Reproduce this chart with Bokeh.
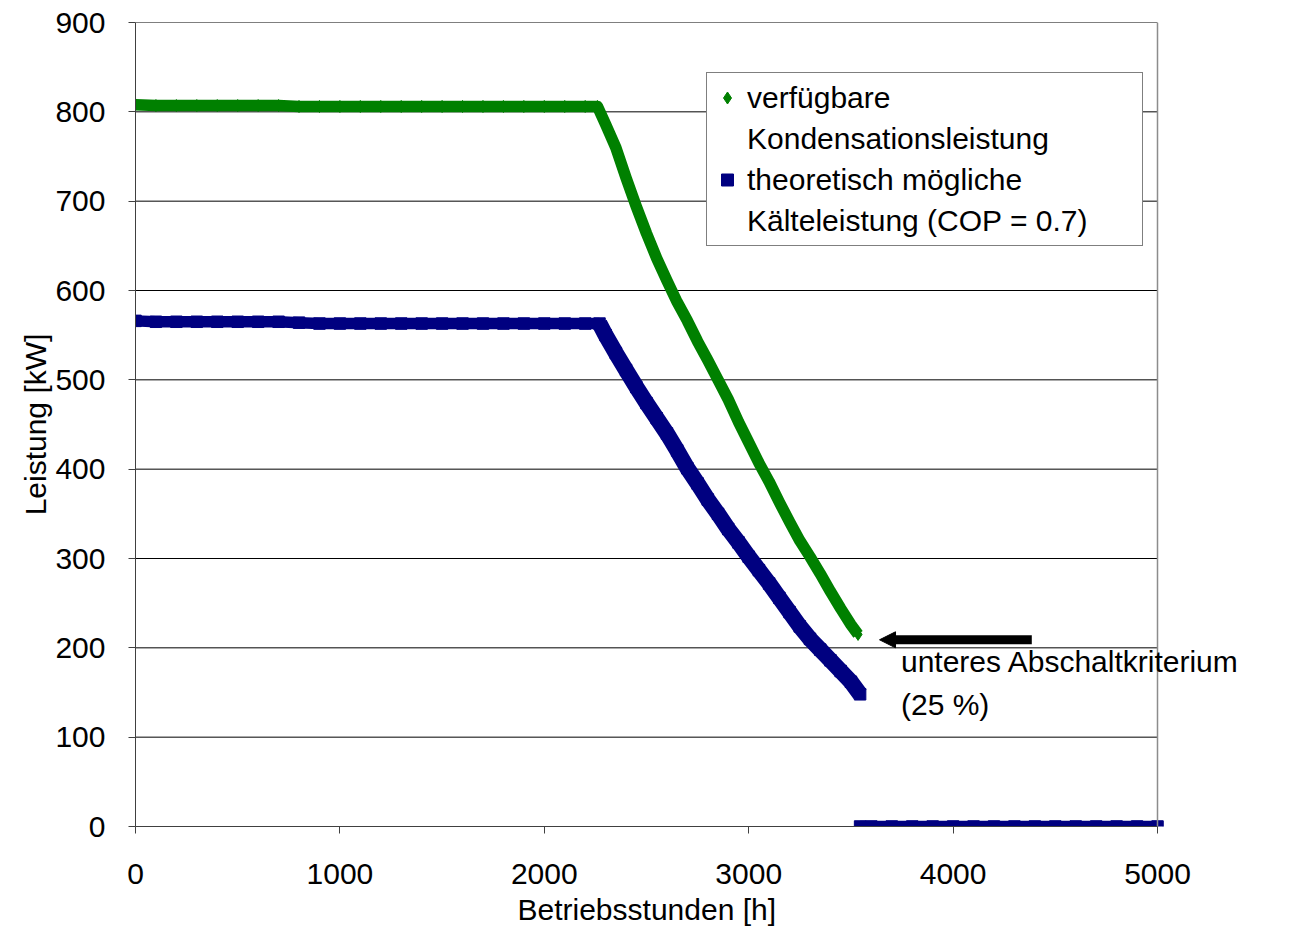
import numpy as np
from bokeh.plotting import figure
from bokeh.models import (FixedTicker, Range1d, Legend, LegendItem, Label,
                          Arrow, NormalHead, Span, Title)
from bokeh.embed import file_html
from bokeh.resources import INLINE

# ---- data ----
hours_g = [0, 100, 200, 300, 400, 500, 600, 700, 800, 900, 1000, 1100, 1200,
           1300, 1400, 1500, 1600, 1700, 1800, 1900, 2000, 2100, 2200, 2260,
           2300, 2350, 2400, 2450, 2500, 2550, 2600, 2650, 2700, 2750, 2800,
           2850, 2900, 2950, 3000, 3050, 3100, 3150, 3200, 3250, 3300, 3350,
           3400, 3450, 3500, 3535]
green_kw = [808, 807, 807, 807, 807, 807, 807, 807, 806, 806, 806, 806, 806,
            806, 806, 806, 806, 806, 806, 806, 806, 806, 806, 806,
            786, 760, 726, 694, 664, 636, 611, 587, 566, 543, 522,
            500, 478, 453, 430, 407, 386, 363, 341, 320, 302, 283,
            263, 244, 226, 215]

hours_b = [0, 100, 200, 300, 400, 500, 600, 700, 800, 900, 1000, 1100, 1200,
           1300, 1400, 1500, 1600, 1700, 1800, 1900, 2000, 2100, 2200, 2270,
           2300, 2350, 2400, 2450, 2500, 2550, 2600, 2650, 2700, 2750, 2800,
           2850, 2900, 2950, 3000, 3050, 3100, 3150, 3200, 3250, 3300, 3350,
           3400, 3450, 3500, 3545]
blue_kw = [566, 565, 565, 565, 565, 565, 565, 565, 564, 563, 563, 563, 563,
           563, 563, 563, 563, 563, 563, 563, 563, 563, 563, 563,
           550, 530, 511, 492, 474, 457, 440, 421, 401, 384, 366,
           350, 333, 318, 302, 287, 272, 256, 240, 224, 210, 198,
           186, 174, 162, 148]

hours_off = [3545, 3600, 3700, 3800, 3900, 4000, 4100, 4200, 4300, 4400,
             4500, 4600, 4700, 4800, 4900, 5000]
blue_off_kw = [0, 0, 0, 0, 0, 0, 0, 0, 0, 0, 0, 0, 0, 0, 0, 0]

x_ticks = [0, 1000, 2000, 3000, 4000, 5000]
y_ticks = [0, 100, 200, 300, 400, 500, 600, 700, 800, 900]
x_max, y_max = 5000, 900

x_title = "Betriebsstunden [h]"
y_title = "Leistung [kW]"
legend_lines = ["verfügbare", "Kondensationsleistung",
                "theoretisch mögliche", "Kälteleistung (COP = 0.7)"]
note_text = "unteres Abschaltkriterium\n(25 %)"
arrow_kw = 209
arrow_from_h, arrow_to_h = 4385, 3640
note_h, note_kw = 3745, 203

FONT = "Liberation Sans"
GREEN = "#008000"
NAVY = "#000080"

# layout: plot area spans x 135..1157 px for 0..5000 h; the frame is
# extended to the right edge so the annotation text is not clipped
W, H = 1300, 932
left, right_px, top, bottom = 135, 1157, 22, 826
x_end = x_max * (W - left) / (right_px - left)

p = figure(width=W, height=H, output_backend="svg", toolbar_location=None,
           x_range=Range1d(0, x_end), y_range=Range1d(0, y_max),
           min_border_left=left, min_border_right=0,
           min_border_top=top, min_border_bottom=H - bottom)

p.background_fill_color = "white"
p.border_fill_color = "white"
p.outline_line_color = None
p.xgrid.visible = False
p.ygrid.visible = False

# horizontal gridlines limited to the plot area (0..5000 h)
p.segment(x0=[0] * len(y_ticks), y0=y_ticks, x1=[x_max] * len(y_ticks),
          y1=y_ticks, line_color="#000000", line_width=1)
# right border of the plot area
p.add_layout(Span(location=x_max, dimension="height",
                  line_color="#8c8c8c", line_width=1.5))

# axes
for ax in (p.xaxis[0], p.yaxis[0]):
    ax.axis_line_color = "#404040"
    ax.axis_line_width = 1
    ax.major_tick_line_color = "#404040"
    ax.major_tick_in = 0
    ax.major_tick_out = 7
    ax.minor_tick_line_color = None
    ax.major_label_text_font = FONT
    ax.major_label_text_font_size = "30px"
    ax.major_label_text_color = "black"
    ax.axis_label_text_font = FONT
    ax.axis_label_text_font_size = "30px"
    ax.axis_label_text_font_style = "normal"
    ax.axis_label_text_color = "black"

p.xaxis[0].ticker = FixedTicker(ticks=x_ticks)
p.xaxis[0].bounds = (0, x_max)
p.yaxis[0].ticker = FixedTicker(ticks=y_ticks)
p.yaxis[0].axis_label = y_title
p.xaxis[0].major_label_standoff = 30
p.yaxis[0].major_label_standoff = 23
p.yaxis[0].axis_label_standoff = 0

# x-axis title centred under the 0..5000 plot area
p.add_layout(Title(text=x_title, align="left", offset=382, standoff=9,
                   text_font=FONT, text_font_size="30px",
                   text_font_style="normal", text_color="black"), "below")

# series: green (diamonds)
p.line(hours_g, green_kw, line_color=GREEN, line_width=11.5, line_join="round")
g_sc = p.scatter(hours_g, green_kw, marker="diamond", size=12,
                 fill_color=GREEN, line_color=GREEN)

# series: blue (squares) - squares along a slope give a thicker band
k = hours_b.index(2270)
p.line(hours_b[:k + 1], blue_kw[:k + 1], line_color=NAVY, line_width=11.5)
p.line(hours_b[k:], blue_kw[k:], line_color=NAVY, line_width=16,
       line_join="round")
b_sc = p.scatter(hours_b, blue_kw, marker="square", size=11.5,
                 fill_color=NAVY, line_color=NAVY)
p.line(hours_off, blue_off_kw, line_color=NAVY, line_width=11.5)
p.scatter(hours_off, blue_off_kw, marker="square", size=11.5,
          fill_color=NAVY, line_color=NAVY)

# invisible proxy for the second line of each legend entry
blank = p.scatter(x=[], y=[], marker="square", fill_alpha=0, line_alpha=0)

legend = Legend(items=[LegendItem(label=legend_lines[0], renderers=[g_sc]),
                       LegendItem(label=legend_lines[1], renderers=[blank]),
                       LegendItem(label=legend_lines[2], renderers=[b_sc]),
                       LegendItem(label=legend_lines[3], renderers=[blank])],
                location=(571, 580), orientation="vertical",
                border_line_color="black", border_line_width=1,
                background_fill_color="white", background_fill_alpha=1.0,
                padding=5, spacing=2, margin=0,
                glyph_width=30, glyph_height=39, label_height=39,
                label_standoff=5, label_width=390,
                label_text_font=FONT, label_text_font_size="30px",
                label_text_color="black")
p.add_layout(legend, "center")

# annotation
p.add_layout(Arrow(x_start=arrow_from_h, y_start=arrow_kw,
                   x_end=arrow_to_h, y_end=arrow_kw,
                   line_color="black", line_width=9,
                   end=NormalHead(size=16, fill_color="black",
                                  line_color="black", line_width=1)))
p.add_layout(Label(x=note_h, y=note_kw, text=note_text,
                   text_font=FONT, text_font_size="30px",
                   text_align="left", text_baseline="top",
                   text_line_height=1.3, text_color="black"))

open("out.html", "w").write(file_html(p, INLINE))
